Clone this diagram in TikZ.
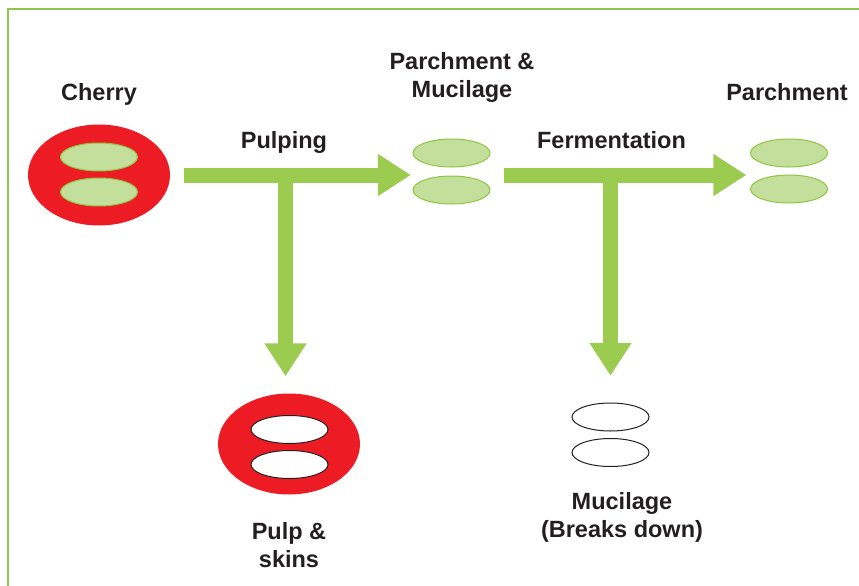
\documentclass[tikz,border=0pt]{standalone}
\usepackage{fontspec}
\setmainfont{Liberation Sans}
\usetikzlibrary{arrows.meta,shapes.geometric}
\definecolor{cred}{HTML}{ED1C24}
\definecolor{cgreen}{HTML}{9BCC50}
\definecolor{lgreen}{HTML}{C3DF9B}
\definecolor{egreen}{HTML}{8DC63F}
\definecolor{framec}{HTML}{8FC44E}
\definecolor{txt}{HTML}{231F20}
\tikzset{
  lbl/.style={font=\fontsize{23.5}{28}\selectfont\bfseries, text=txt, inner sep=0pt, align=center, anchor=base},
  redfruit/.style={ellipse, fill=cred, draw=none, minimum width=142pt, minimum height=101pt, inner sep=0pt},
  bean/.style={ellipse, fill=lgreen, draw=egreen, line width=1pt, minimum width=77pt, minimum height=28pt, inner sep=0pt},
  hollow/.style={ellipse, fill=white, draw=txt, line width=1pt, minimum width=77pt, minimum height=28pt, inner sep=0pt},
  group/.style={draw=none, minimum width=77pt, minimum height=64pt, inner sep=0pt},
  flow/.style={draw=cgreen, line width=15pt, -{Triangle[length=33pt,width=40pt]}},
}
\begin{document}
\begin{tikzpicture}[x=1pt,y=-1pt]
\useasboundingbox (0,0) rectangle (859,586);
\draw[framec, line width=2pt] (7.5,587) coordinate (fb) -- (7.5,9.5) coordinate (fc) -- (860,9.5) coordinate (fr);

% cherry
\node[redfruit] (cherry) at (99,175) {};
\node[bean] (c1) at (99,157) {};
\node[bean] (c2) at (99,192) {};
\node[lbl] (tcherry) at (99,100) {Cherry};

% parchment & mucilage
\node[group] (pm) at (451.5,175) {};
\node[bean] (pm1) at (451.5,153) {};
\node[bean] (pm2) at (451.5,190) {};
\node[lbl] (tpm) at (462,97) {Parchment \&\\Mucilage};

% parchment
\node[group] (pa) at (789,175) {};
\node[bean] (pa1) at (789,153) {};
\node[bean] (pa2) at (789,189) {};
\node[lbl] (tpa) at (787,100) {Parchment};

% pulp & skins
\node[redfruit] (pulp) at (289,444) {};
\node[hollow] (p1) at (289.5,429.5) {};
\node[hollow] (p2) at (289.5,464.5) {};
\node[lbl] (tpulp) at (289,567) {Pulp \&\\skins};

% mucilage
\node[group] (mu) at (610.5,435) {};
\node[hollow] (m1) at (610.5,417) {};
\node[hollow] (m2) at (610.5,452.5) {};
\node[lbl] (tmu) at (622,537) {Mucilage\\(Breaks down)};

% step labels
\node[lbl] (tpulping) at (284,148) {Pulping};
\node[lbl] (tferm) at (611.5,148) {Fermentation};

% flows
\coordinate (j1) at (285.5,175);
\coordinate (j2) at (610.5,175);
\draw[flow, shorten <=14pt, shorten >=2pt] (cherry.east) -- (pm.west);
\draw[flow, shorten <=14pt, shorten >=4pt] (pm.east) -- (pa.west);
\draw[flow, shorten >=17pt] (j1) -- (j1 |- pulp.north);
\draw[flow, shorten >=27pt] (j2) -- (mu.north);
\end{tikzpicture}
\end{document}
